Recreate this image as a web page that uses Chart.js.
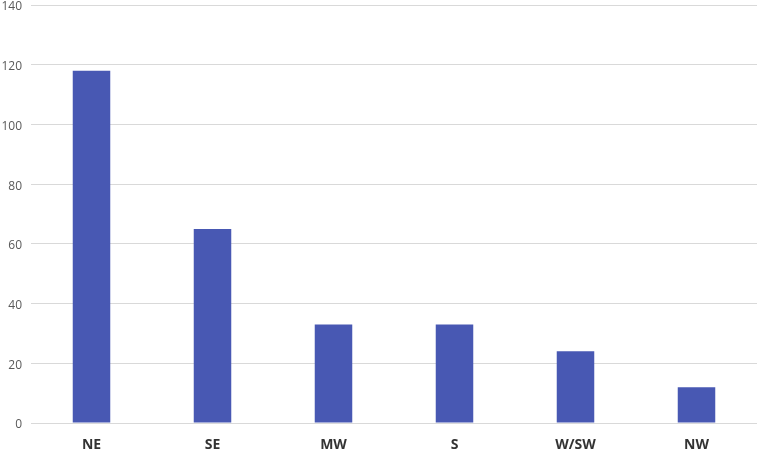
<!DOCTYPE html>
<html>
<head>
<meta charset="utf-8">
<script src="https://cdn.jsdelivr.net/npm/chart.js@4/dist/chart.umd.min.js"></script>
<style>
html,body{margin:0;padding:0;background:#fff;}
#wrap{width:759px;height:453px;}
</style>
</head>
<body>
<div id="wrap"><canvas id="c" width="759" height="453"></canvas></div>
<script>
const categories = ["NE", "SE", "MW", "S", "W/SW", "NW"];
const values = [118, 65, 33, 33, 24, 12];
const yTicks = [0, 20, 40, 60, 80, 100, 120, 140];

new Chart(document.getElementById('c'), {
  type: 'bar',
  data: {
    labels: categories,
    datasets: [{
      data: values,
      backgroundColor: '#4858B3',
      categoryPercentage: 1.0,
      barPercentage: 0.31
    }]
  },
  options: {
    responsive: false,
    animation: false,
    devicePixelRatio: 1,
    layout: { padding: { top: 5, right: 2, left: 0, bottom: 0 } },
    plugins: { legend: { display: false }, tooltip: { enabled: false } },
    scales: {
      x: {
        grid: { display: false, drawTicks: false },
        border: { display: false },
        ticks: {
          padding: 14,
          color: '#333333',
          font: { family: 'Open Sans', size: 14, weight: 'bold' }
        },
        afterFit: (s) => { s.height = 30; s.paddingLeft = 0; s.paddingRight = 0; }
      },
      y: {
        min: 0, max: 140,
        afterBuildTicks: (s) => { s.ticks = yTicks.map(v => ({ value: v })); },
        grid: { color: '#d9d9d9', lineWidth: 1, drawTicks: false },
        border: { display: false },
        ticks: {
          padding: 9,
          labelOffset: 2,
          color: '#595959',
          font: { family: 'Open Sans', size: 12 }
        },
        afterFit: (s) => { s.width = 31; s.paddingTop = 0; s.paddingBottom = 0; }
      }
    }
  }
});
</script>
</body>
</html>
